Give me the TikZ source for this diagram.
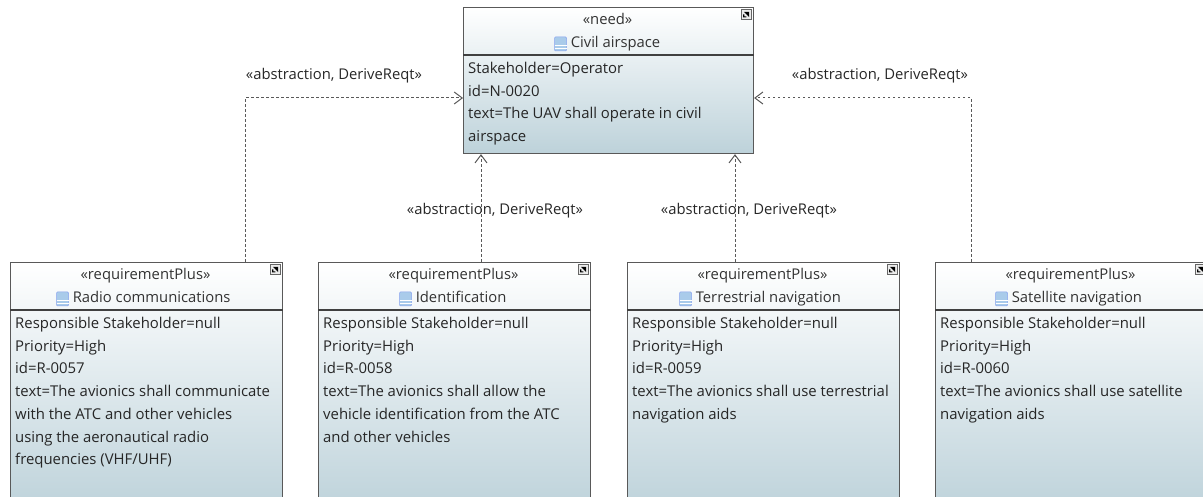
\documentclass[tikz,border=0pt]{standalone}
\usepackage{fontspec}
\setmainfont{Open Sans}
\usetikzlibrary{arrows.meta,calc}
\definecolor{boxbottom}{HTML}{BDD2DA}
\definecolor{iconblue}{HTML}{A9CBEA}
\tikzset{
    blockbox/.style={draw=black!65,line width=1.1pt,top color=white,bottom color=boxbottom,minimum width=#1,inner sep=0pt,anchor=north west},
    headtext/.style={font=\fontsize{14.8}{15}\selectfont,text=black!80,inner sep=0pt,text height=11pt,text depth=3pt},
    bodytext/.style={font=\fontsize{14.9}{22.7}\selectfont,text=black!85,align=left,anchor=north west,inner sep=0pt},
    linklabel/.style={font=\fontsize{14.8}{14}\selectfont,text=black!85,inner sep=0pt},
    derivelink/.style={dash pattern=on 2.5pt off 2.5pt,line width=1pt,black!65,-{Straight Barb[length=8pt,width=12pt]}}
}
% name, left, top, width, height, stereotype, title, icon shift, body
\newcommand{\drawblock}[9]{
    \node[blockbox=#4,minimum height=#5] (#1) at (#2,#3) {};
    \draw[black!75,line width=1.1pt] ($(#1.north west)+(0,48)$) -- ($(#1.north east)+(0,48)$);
    \node[headtext] (#1stereo) at ($(#1.north)+(-1,13.5)$) {«#6»};
    \node[headtext,anchor=west] (#1title) at ($(#1.north)+(#8+8,37)$) {#7};
    \draw[iconblue!80!blue,fill=iconblue,line width=.5pt,rounded corners=1pt] ($(#1title.west)+(-16,-7)$) rectangle ++(12,14);
    \draw[white,line width=.7pt] ($(#1title.west)+(-16,1)$) -- ++(12,0) ($(#1title.west)+(-16,4)$) -- ++(12,0);
    \draw[black!60,fill=black!8,line width=.6pt] ($(#1.north east)+(-13,2.5)$) rectangle ++(10,10);
    \fill[black] ($(#1.north east)+(-11,10.5)$) -- ++(0,-3) -- ++(1.2,0) -- ++(0,1.8) -- ++(2,0) -- ++(0,1.2) -- cycle ($(#1.north east)+(-10,5)$) -- ++(5,0) -- ++(0,5) -- cycle;
    \node[bodytext] (#1body) at ($(#1.north west)+(5,55)$) {#9};
}
\begin{document}
\begin{tikzpicture}[x=1pt,y=-1pt]
\useasboundingbox (0,0) rectangle (1203,497);
\clip (0,0) rectangle (1203,497);
\drawblock{need}{463}{7}{290}{146}{need}{Civil airspace}{-46}{Stakeholder=Operator\\id=N-0020\\text=The UAV shall operate in civil\\airspace}
\drawblock{radio}{10}{262}{272}{250}{requirementPlus}{Radio communications}{-82}{Responsible Stakeholder=null\\Priority=High\\id=R-0057\\text=The avionics shall communicate\\with the ATC and other vehicles\\using the aeronautical radio\\frequencies (VHF/UHF)}
\drawblock{ident}{318}{262}{272}{250}{requirementPlus}{Identification}{-47}{Responsible Stakeholder=null\\Priority=High\\id=R-0058\\text=The avionics shall allow the\\vehicle identification from the ATC\\and other vehicles}
\drawblock{terr}{627}{262}{272}{250}{requirementPlus}{Terrestrial navigation}{-76}{Responsible Stakeholder=null\\Priority=High\\id=R-0059\\text=The avionics shall use terrestrial\\navigation aids}
\drawblock{sat}{935}{262}{272}{250}{requirementPlus}{Satellite navigation}{-68}{Responsible Stakeholder=null\\Priority=High\\id=R-0060\\text=The avionics shall use satellite\\navigation aids}
\draw[derivelink] ($(radio.north west)+(235,0)$) |- ($(need.north west)+(0,91)$);
\draw[derivelink] ($(sat.north west)+(36,0)$) |- ($(need.north east)+(0,91)$);
\draw[derivelink] ($(ident.north west)+(163,0)$) -- ($(need.south west)+(18,0)$);
\draw[derivelink] ($(terr.north west)+(108,0)$) -- ($(need.south west)+(272,0)$);
\node[linklabel] (lblradio) at (334,75.5) {«abstraction, DeriveReqt»};
\node[linklabel] (lblsat) at (880,75.5) {«abstraction, DeriveReqt»};
\node[linklabel] (lblident) at (495,210.5) {«abstraction, DeriveReqt»};
\node[linklabel] (lblterr) at (749,210.5) {«abstraction, DeriveReqt»};
\end{tikzpicture}
\end{document}
